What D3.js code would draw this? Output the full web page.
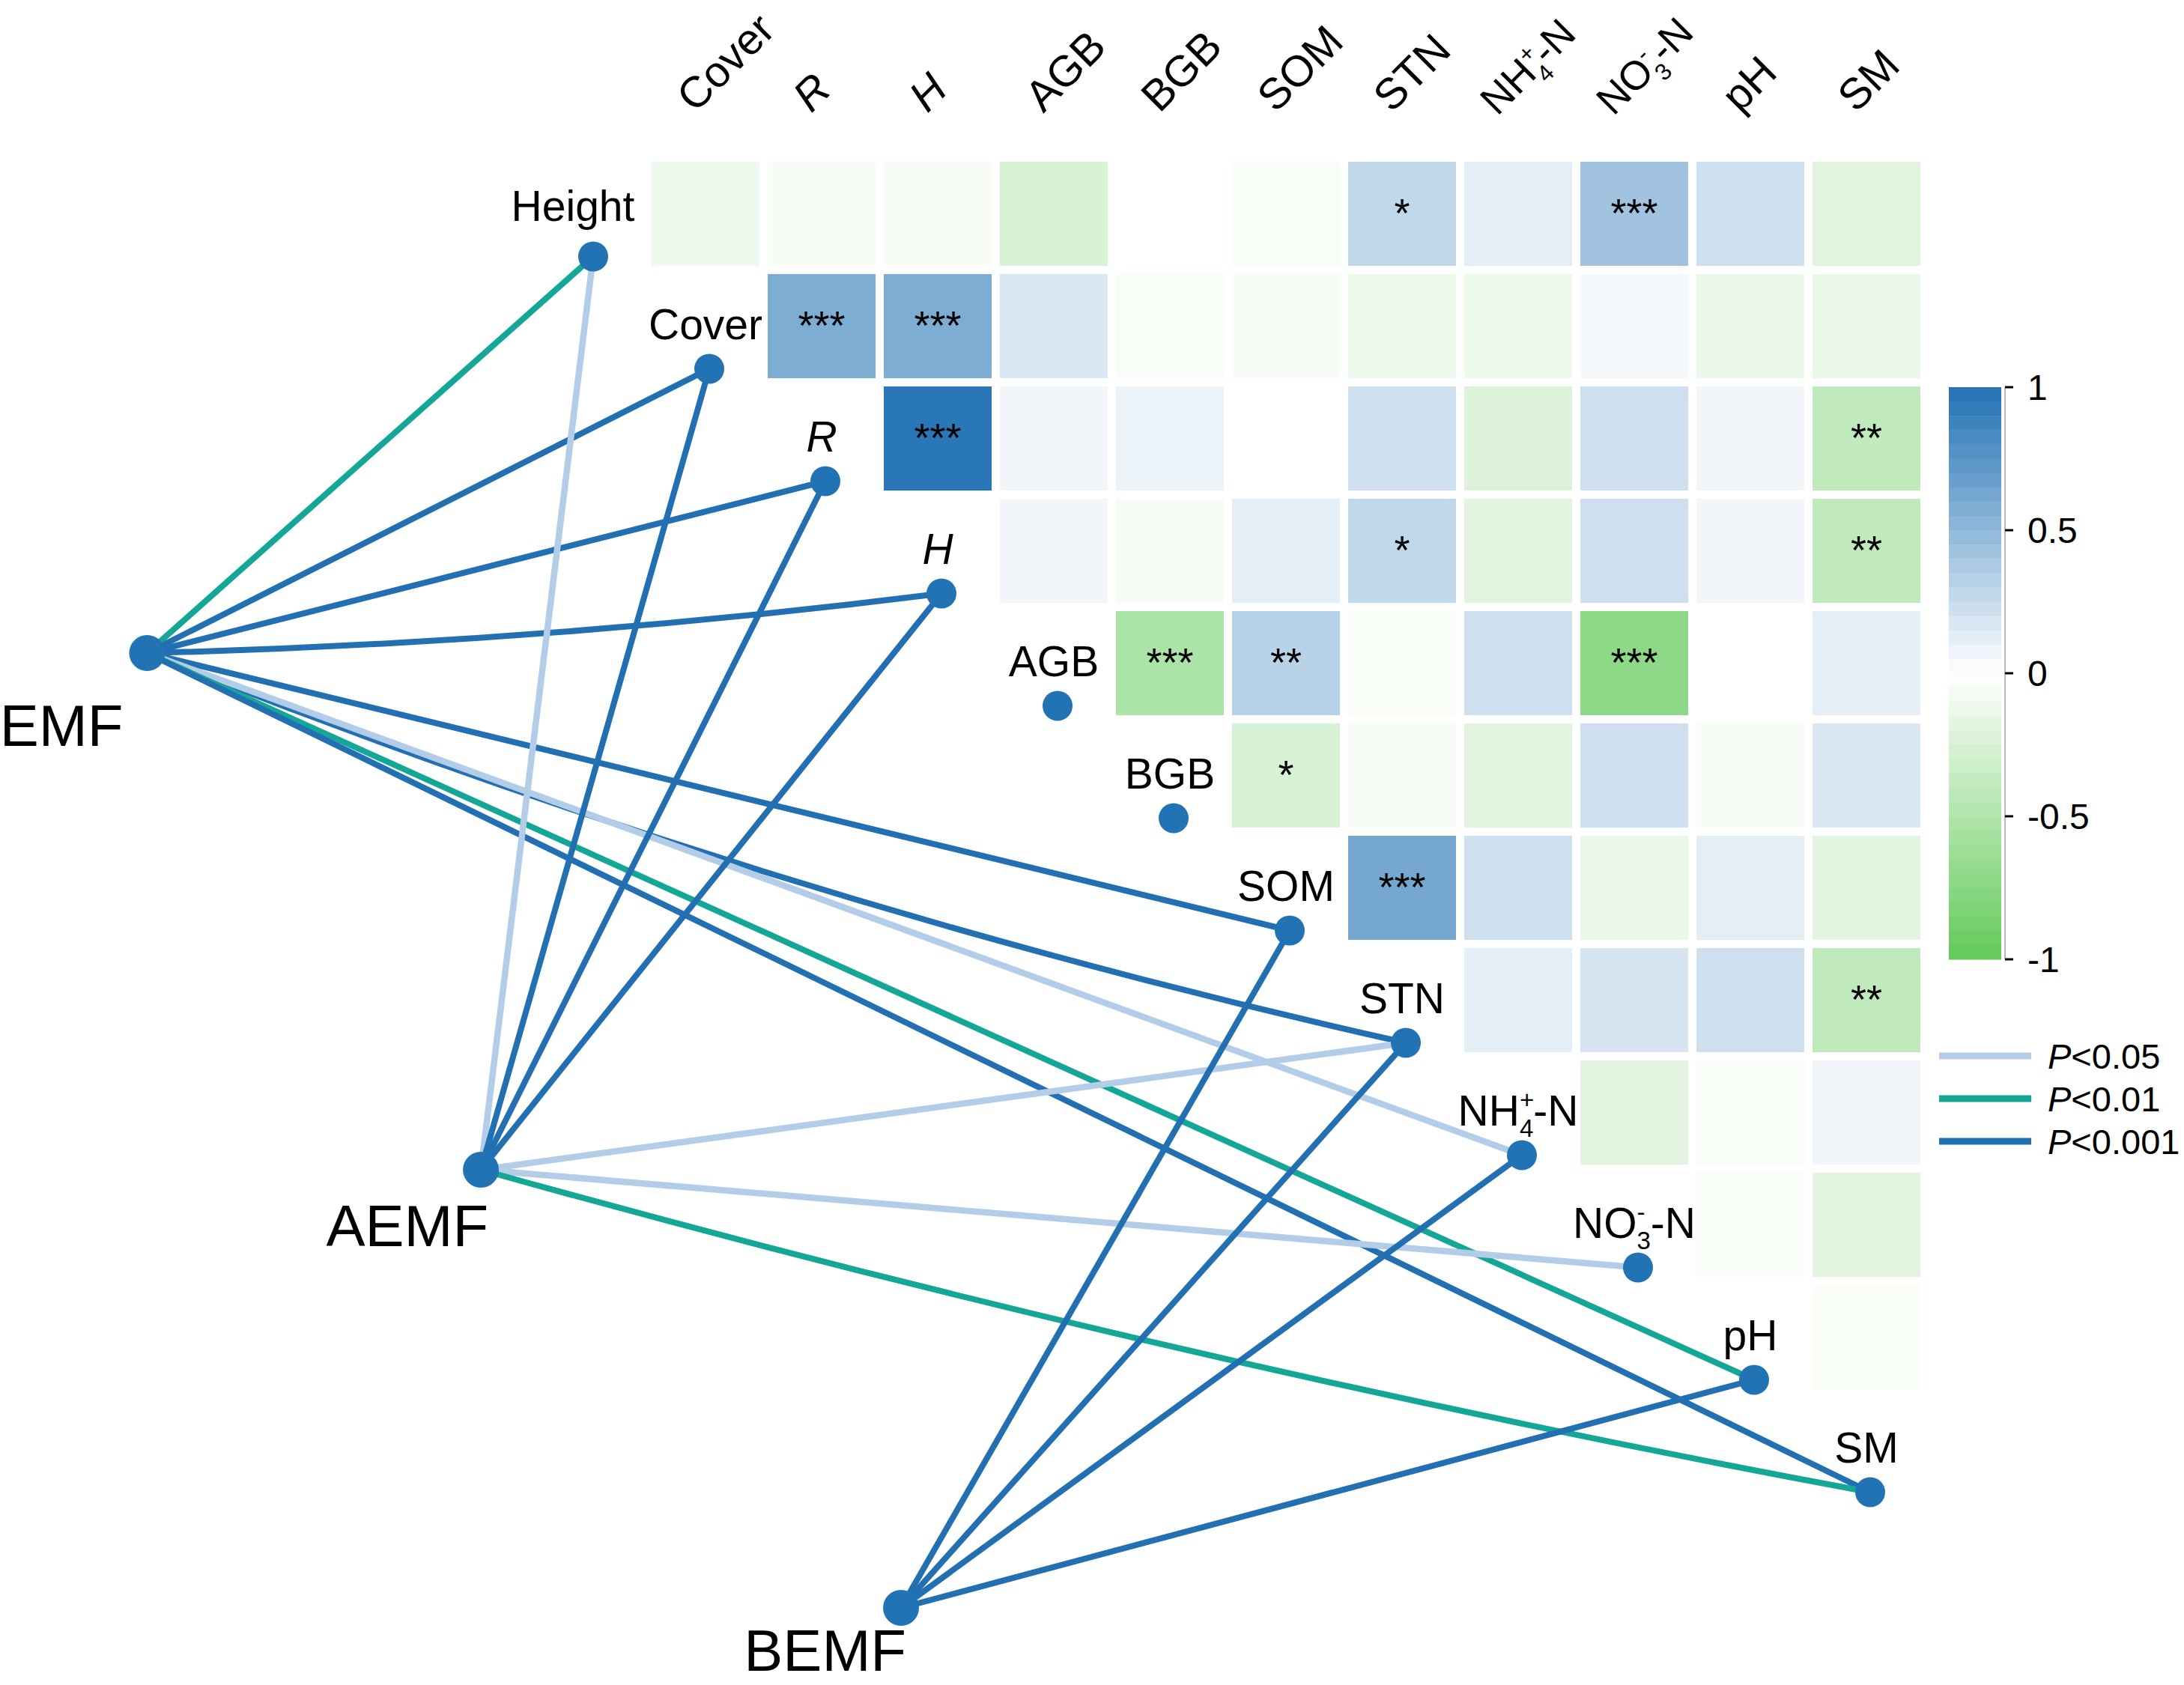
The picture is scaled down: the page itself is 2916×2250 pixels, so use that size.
<!DOCTYPE html>
<html lang="en">
<head>
<meta charset="UTF-8">
<title>Mantel network</title>
<script src="https://cdnjs.cloudflare.com/ajax/libs/d3/7.8.5/d3.min.js"></script>
<style>
  body { margin: 0; background: #fff; }
  svg text { font-family: "Liberation Sans", Arial, sans-serif; fill: #000; }
</style>
</head>
<body>
<script>
    // variables: heatmap rows use the first 11, columns the last 11
    var vars = ["Height", "Cover", "R", "H", "AGB", "BGB", "SOM", "STN", "NH4", "NO3", "pH", "SM"];
    var rowVars = vars.slice(0, 11);
    var colVars = vars.slice(1);

    // upper triangle of the correlation matrix, row i holds columns i..10
    var corr = [
        [-0.10, -0.05, -0.05, -0.25, 0.00, -0.04, 0.28, 0.12, 0.42, 0.22, -0.20],
        [0.58, 0.58, 0.17, -0.04, -0.05, -0.10, -0.12, 0.05, -0.14, -0.14],
        [0.96, 0.06, 0.08, 0.00, 0.22, -0.22, 0.22, 0.06, -0.40],
        [0.06, -0.05, 0.12, 0.28, -0.20, 0.22, 0.06, -0.40],
        [-0.53, 0.32, -0.04, 0.22, -0.72, 0.00, 0.12],
        [-0.25, -0.05, -0.20, 0.22, -0.05, 0.17],
        [0.62, 0.22, -0.14, 0.12, -0.18],
        [0.12, 0.18, 0.22, -0.40],
        [-0.18, -0.04, 0.06],
        [-0.04, -0.18],
        [-0.04]
    ];
    var signif = [
        ["", "", "", "", "", "", "*", "", "***", "", ""],
        ["***", "***", "", "", "", "", "", "", "", ""],
        ["***", "", "", "", "", "", "", "", "**"],
        ["", "", "", "*", "", "", "", "**"],
        ["***", "**", "", "", "***", "", ""],
        ["*", "", "", "", "", ""],
        ["***", "", "", "", ""],
        ["", "", "", "**"],
        ["", "", ""],
        ["", ""],
        [""]
    ];

    // mantel links
    var specs = ["EMF", "AEMF", "BEMF"];
    var linkFrom = ["EMF", "EMF", "EMF", "EMF", "EMF", "EMF", "EMF", "EMF", "EMF",
                    "AEMF", "AEMF", "AEMF", "AEMF", "AEMF", "AEMF", "AEMF",
                    "BEMF", "BEMF", "BEMF", "BEMF"];
    var linkTo = ["Height", "Cover", "R", "H", "SOM", "STN", "NH4", "pH", "SM",
                  "Height", "Cover", "R", "H", "STN", "NO3", "SM",
                  "SOM", "STN", "NH4", "pH"];
    var linkP = ["<0.01", "<0.001", "<0.001", "<0.001", "<0.001", "<0.001", "<0.05", "<0.01", "<0.001",
                 "<0.05", "<0.001", "<0.001", "<0.001", "<0.05", "<0.05", "<0.01",
                 "<0.001", "<0.001", "<0.001", "<0.001"];
    var pLevels = ["<0.05", "<0.01", "<0.001"];
    var legendTicks = [1, 0.5, 0, -0.5, -1];

    var width = 2916;
    var height = 2250;

    var pColor = d3.scaleOrdinal().domain(pLevels).range(["#b3cde9", "#14a696", "#2270b2"]);
    var color = d3.scaleLinear().domain([-1, 0, 1]).range(["#62ca58", "#ffffff", "#2171b5"]);

    // layout of spec nodes in grid units (column, row) and label nudges
    var specGrid = { EMF: [-3.81, 3.91], AEMF: [-0.935, 8.51], BEMF: [2.684, 12.41] };
    var specLabelNudge = { EMF: [-32, 124], AEMF: [10, 102], BEMF: [7, 84] };
    var diagLabelNudge = { Height: [-22, -8] };
    var curvature = { "EMF-H": 0.05, "EMF-STN": 0.08, "AEMF-SM": 0.045 };

    var svg = d3.select("body").append("svg")
        .attr("width", width)
        .attr("height", height);

    svg.append("rect").attr("width", width).attr("height", height).attr("fill", "#fff");

    var x = d3.scaleBand().domain(colVars)
        .range([864.5, 864.5 + 155 * 11])
        .paddingInner(0.071).paddingOuter(0.0355);
    var y = d3.scaleBand().domain(rowVars)
        .range([210.5, 210.5 + 150 * 11])
        .paddingInner(0.073).paddingOuter(0.0365);

    function cx(k) { return x(colVars[0]) + x.bandwidth() / 2 + (k - 1) * x.step(); }
    function ry(k) { return y(rowVars[0]) + y.bandwidth() / 2 + k * y.step(); }

    function writeLabel(text, id, fs) {
        if (id === "NH4" || id === "NO3") {
            var s = fs * 0.58;
            var supW = (id === "NH4" ? 0.584 : 0.333) * s;
            text.append("tspan").text(id === "NH4" ? "NH" : "NO");
            text.append("tspan").attr("font-size", s).attr("dy", -0.40 * fs).text(id === "NH4" ? "+" : "-");
            text.append("tspan").attr("font-size", s).attr("dx", -supW).attr("dy", 0.68 * fs).text(id === "NH4" ? "4" : "3");
            text.append("tspan").attr("dy", -0.28 * fs).text("-N");
        } else {
            text.text(id);
            if (id === "R" || id === "H") text.attr("font-style", "italic");
        }
    }

    // heatmap cells
    var cells = [];
    corr.forEach(function (row, i) {
        row.forEach(function (v, j) {
            cells.push({ row: rowVars[i], col: colVars[i + j], value: v, star: signif[i][j] });
        });
    });

    var heat = svg.append("g");
    heat.selectAll("rect")
        .data(cells)
        .enter()
        .append("rect")
        .attr("x", function (d) { return x(d.col); })
        .attr("y", function (d) { return y(d.row); })
        .attr("width", x.bandwidth())
        .attr("height", y.bandwidth())
        .attr("fill", function (d) { return color(d.value); });

    heat.selectAll(".star")
        .data(cells.filter(function (d) { return d.star; }))
        .enter()
        .append("text")
        .attr("class", "star")
        .attr("x", function (d) { return x(d.col) + x.bandwidth() / 2; })
        .attr("y", function (d) { return y(d.row) + y.bandwidth() / 2 + 17; })
        .attr("text-anchor", "middle")
        .attr("font-size", 54)
        .text(function (d) { return d.star; });

    // top labels, the ion labels are set a little smaller
    colVars.forEach(function (v, i) {
        var ion = v === "NH4" || v === "NO3";
        var fs = ion ? 54 : 58;
        var t = svg.append("text")
            .attr("transform", "translate(" + (cx(i + 1) - (ion ? 28 : 14)) + "," + (ion ? 156 : 152) + ") rotate(-45)")
            .attr("font-size", fs);
        writeLabel(t, v, fs);
    });

    // node positions
    var pos = {};
    vars.forEach(function (v, k) { pos[v] = [cx(k) + 5, ry(k) + 57]; });
    specs.forEach(function (s) { pos[s] = [cx(specGrid[s][0]), ry(specGrid[s][1])]; });

    // links
    var links = linkFrom.map(function (f, i) {
        return { from: f, to: linkTo[i], p: linkP[i], c: curvature[f + "-" + linkTo[i]] || 0 };
    });

    svg.append("g").selectAll("path")
        .data(links)
        .enter()
        .append("path")
        .attr("d", function (d) {
            var a = pos[d.from], b = pos[d.to];
            var dx = b[0] - a[0], dy = b[1] - a[1];
            var L = Math.sqrt(dx * dx + dy * dy);
            var mx = (a[0] + b[0]) / 2, my = (a[1] + b[1]) / 2;
            var k = d.c * L / 2;
            var qx = mx - dy / L * k, qy = my + dx / L * k;
            return "M" + a[0] + "," + a[1] + "Q" + qx + "," + qy + " " + b[0] + "," + b[1];
        })
        .attr("fill", "none")
        .attr("stroke", function (d) { return pColor(d.p); })
        .attr("stroke-width", function (d) { return d.p === "<0.05" ? 8.5 : 8; });

    // nodes
    var nodes = svg.append("g");
    nodes.selectAll(".env")
        .data(vars)
        .enter()
        .append("circle")
        .attr("cx", function (d) { return pos[d][0]; })
        .attr("cy", function (d) { return pos[d][1]; })
        .attr("r", 20)
        .attr("fill", "#2273b3");
    nodes.selectAll(".spec")
        .data(specs)
        .enter()
        .append("circle")
        .attr("cx", function (d) { return pos[d][0]; })
        .attr("cy", function (d) { return pos[d][1]; })
        .attr("r", 24)
        .attr("fill", "#2273b3");

    // diagonal labels
    vars.forEach(function (v, k) {
        var n = diagLabelNudge[v] || [0, 0];
        var t = svg.append("text")
            .attr("x", cx(k) + n[0])
            .attr("y", ry(k) + 17 + n[1])
            .attr("text-anchor", "middle")
            .attr("font-size", 57);
        writeLabel(t, v, 57);
    });

    specs.forEach(function (s) {
        svg.append("text")
            .attr("x", pos[s][0] + specLabelNudge[s][0])
            .attr("y", pos[s][1] + specLabelNudge[s][1])
            .attr("text-anchor", "end")
            .attr("font-size", 78)
            .text(s);
    });

    // colour bar
    var cb = d3.scaleLinear().domain([1, -1]).range([517, 1281]);
    var bands = d3.range(40).map(function (i) { return 1 - i * 0.05; });
    var bar = svg.append("g");
    bar.selectAll("rect")
        .data(bands)
        .enter()
        .append("rect")
        .attr("x", 2602)
        .attr("y", function (d) { return cb(d); })
        .attr("width", 70)
        .attr("height", cb(0) - cb(0.05) + 0.5)
        .attr("fill", function (d) { return color(d - 0.025); });

    bar.append("line")
        .attr("x1", 2677).attr("x2", 2677)
        .attr("y1", cb(1)).attr("y2", cb(-1))
        .attr("stroke", "#bbb").attr("stroke-width", 2);

    bar.selectAll(".tick")
        .data(legendTicks)
        .enter()
        .append("line")
        .attr("x1", 2677).attr("x2", 2688)
        .attr("y1", function (d) { return cb(d); })
        .attr("y2", function (d) { return cb(d); })
        .attr("stroke", "#000").attr("stroke-width", 3);

    bar.selectAll(".tickLabel")
        .data(legendTicks)
        .enter()
        .append("text")
        .attr("x", 2707)
        .attr("y", function (d) { return cb(d) + 17; })
        .attr("font-size", 48)
        .text(function (d) { return d; });

    // P legend
    var leg = svg.append("g");
    pLevels.forEach(function (p, i) {
        var ly = 1410 + i * 57;
        leg.append("line")
            .attr("x1", 2589).attr("x2", 2712)
            .attr("y1", ly).attr("y2", ly)
            .attr("stroke", pColor(p)).attr("stroke-width", 9);
        var t = leg.append("text")
            .attr("x", 2734)
            .attr("y", ly + 17)
            .attr("font-size", 47);
        t.append("tspan").attr("font-style", "italic").text("P");
        t.append("tspan").text(p);
    });
</script>
</body>
</html>
